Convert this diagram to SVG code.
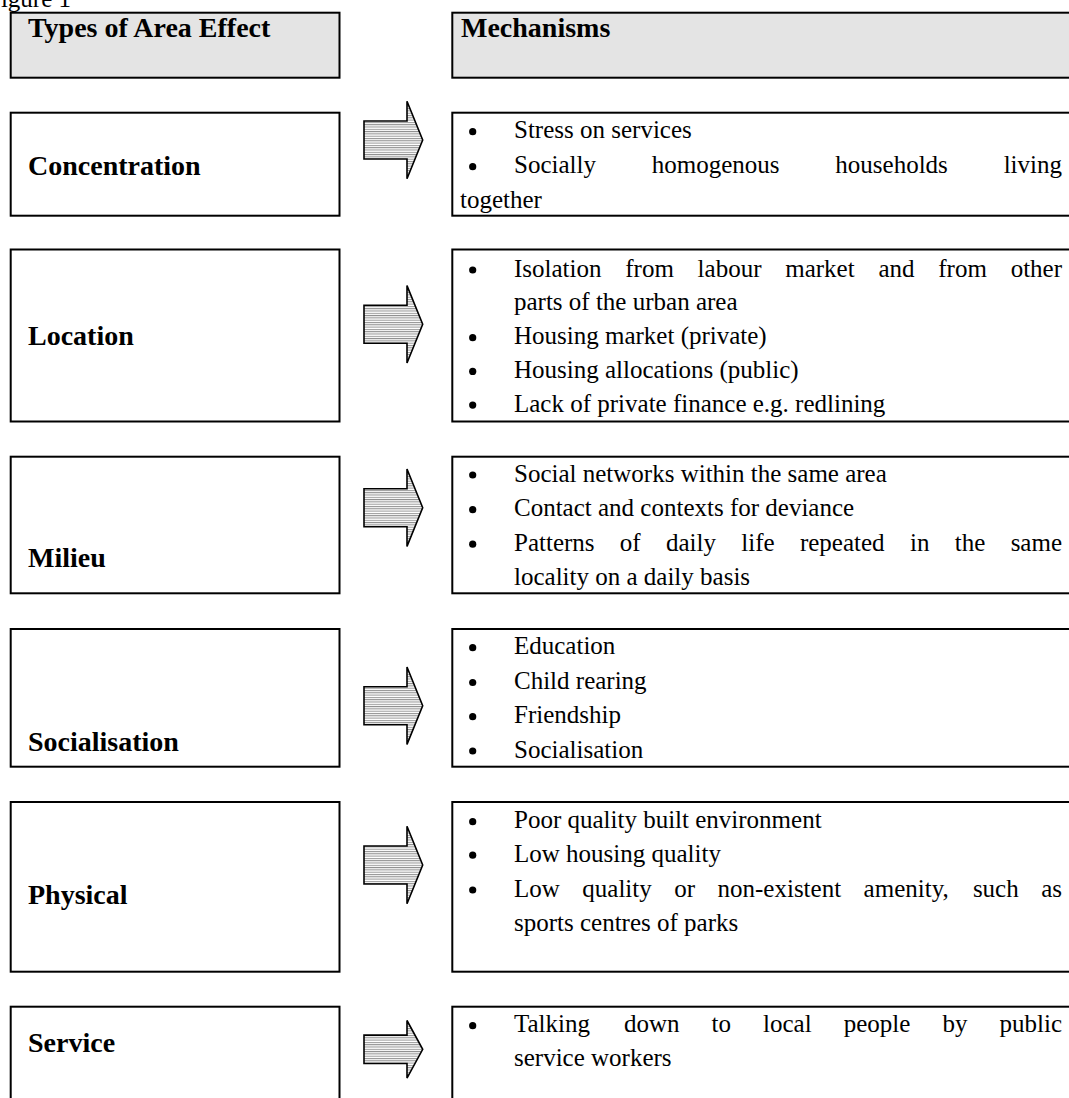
<svg xmlns="http://www.w3.org/2000/svg" width="1069" height="1098" viewBox="0 0 1069 1098">
<style>
.box{fill:#fff;stroke:#000;stroke-width:2}
.hdr{fill:#e4e4e4;stroke:#000;stroke-width:2}
.lbl{font-family:"Liberation Serif",serif;font-weight:bold;font-size:28px;fill:#000}
.t{font-family:"Liberation Serif",serif;font-size:25px;fill:#000}
.end{text-anchor:end}
.b{fill:#000}
.arrow{fill:url(#stripes);stroke:#000;stroke-width:1.6;stroke-linejoin:miter}
</style>
<defs>
<pattern id="stripes" x="0" y="0" width="6" height="2.3" patternUnits="userSpaceOnUse">
<rect width="6" height="2.3" fill="#fff"/>
<rect width="6" height="1" fill="#8f8f8f"/>
</pattern>
</defs>
<rect width="1069" height="1098" fill="#fff"/>
<text class="t" x="-13" y="7">Figure 1</text>

<g id="header-types">
<rect class="hdr" x="10.7" y="12.7" width="328.8" height="65"/>
<text class="lbl" x="28" y="37">Types of Area Effect</text>
</g>
<g id="header-mechanisms">
<rect class="hdr" x="452.3" y="12.7" width="640" height="65"/>
<text class="lbl" x="461" y="37">Mechanisms</text>
</g>

<g id="type-concentration">
<rect class="box" x="10.7" y="112.7" width="328.8" height="103"/>
<text class="lbl" x="28" y="175">Concentration</text>
</g>
<g id="mech-concentration">
<rect class="box" x="452.3" y="112.7" width="640" height="103"/>
<circle class="b" cx="472.7" cy="131.7" r="3.6"/>
<text class="t" x="514" y="138">Stress on services</text>
<circle class="b" cx="472.7" cy="166.7" r="3.6"/>
<text class="t" y="173"><tspan x="514">Socially</tspan><tspan x="651.75">homogenous</tspan><tspan x="835.35">households</tspan></text>
<text class="t end" x="1062" y="173">living</text>
<text class="t" x="460" y="208">together</text>
</g>

<g id="type-location">
<rect class="box" x="10.7" y="249.5" width="328.8" height="172"/>
<text class="lbl" x="28" y="345">Location</text>
</g>
<g id="mech-location">
<rect class="box" x="452.3" y="249.5" width="640" height="172"/>
<circle class="b" cx="472.7" cy="270" r="3.6"/>
<text class="t" y="276.5"><tspan x="514">Isolation</tspan><tspan x="625.25">from</tspan><tspan x="697.6">labour</tspan><tspan x="785.25">market</tspan><tspan x="878.4">and</tspan><tspan x="938.25">from</tspan></text>
<text class="t end" x="1062" y="276.5">other</text>
<text class="t" x="514" y="310.25">parts of the urban area</text>
<circle class="b" cx="472.7" cy="337.7" r="3.6"/>
<text class="t" x="514" y="344">Housing market (private)</text>
<circle class="b" cx="472.7" cy="371.4" r="3.6"/>
<text class="t" x="514" y="377.75">Housing allocations (public)</text>
<circle class="b" cx="472.7" cy="405.1" r="3.6"/>
<text class="t" x="514" y="411.5">Lack of private finance e.g. redlining</text>
</g>

<g id="type-milieu">
<rect class="box" x="10.7" y="456.7" width="328.8" height="136.6"/>
<text class="lbl" x="28" y="567">Milieu</text>
</g>
<g id="mech-milieu">
<rect class="box" x="452.3" y="456.7" width="640" height="136.6"/>
<circle class="b" cx="472.7" cy="475" r="3.6"/>
<text class="t" x="514" y="481.5">Social networks within the same area</text>
<circle class="b" cx="472.7" cy="509.7" r="3.6"/>
<text class="t" x="514" y="516">Contact and contexts for deviance</text>
<circle class="b" cx="472.7" cy="544.2" r="3.6"/>
<text class="t" y="550.5"><tspan x="514">Patterns</tspan><tspan x="619.87">of</tspan><tspan x="665.99">daily</tspan><tspan x="741.31">life</tspan><tspan x="799.93">repeated</tspan><tspan x="909.95">in</tspan><tspan x="954.72">the</tspan></text>
<text class="t end" x="1062" y="550.5">same</text>
<text class="t" x="514" y="585">locality on a daily basis</text>
</g>

<g id="type-socialisation">
<rect class="box" x="10.7" y="629" width="328.8" height="137.7"/>
<text class="lbl" x="28" y="751">Socialisation</text>
</g>
<g id="mech-socialisation">
<rect class="box" x="452.3" y="629" width="640" height="137.7"/>
<circle class="b" cx="472.7" cy="647.7" r="3.6"/>
<text class="t" x="514" y="654">Education</text>
<circle class="b" cx="472.7" cy="682.5" r="3.6"/>
<text class="t" x="514" y="689">Child rearing</text>
<circle class="b" cx="472.7" cy="716.7" r="3.6"/>
<text class="t" x="514" y="723">Friendship</text>
<circle class="b" cx="472.7" cy="751" r="3.6"/>
<text class="t" x="514" y="757.5">Socialisation</text>
</g>

<g id="type-physical">
<rect class="box" x="10.7" y="802" width="328.8" height="169.7"/>
<text class="lbl" x="28" y="904">Physical</text>
</g>
<g id="mech-physical">
<rect class="box" x="452.3" y="802" width="640" height="169.7"/>
<circle class="b" cx="472.7" cy="821.7" r="3.6"/>
<text class="t" x="514" y="828">Poor quality built environment</text>
<circle class="b" cx="472.7" cy="855.2" r="3.6"/>
<text class="t" x="514" y="861.5">Low housing quality</text>
<circle class="b" cx="472.7" cy="890" r="3.6"/>
<text class="t" y="896.5"><tspan x="514">Low</tspan><tspan x="582.29">quality</tspan><tspan x="674.23">or</tspan><tspan x="717.52">non-existent</tspan><tspan x="863.61">amenity,</tspan><tspan x="972.9">such</tspan></text>
<text class="t end" x="1062" y="896.5">as</text>
<text class="t" x="514" y="930.5">sports centres of parks</text>
</g>

<g id="type-service">
<rect class="box" x="10.7" y="1006.7" width="328.8" height="110"/>
<text class="lbl" x="28" y="1052">Service</text>
</g>
<g id="mech-service">
<rect class="box" x="452.3" y="1006.7" width="640" height="110"/>
<circle class="b" cx="472.7" cy="1025.7" r="3.6"/>
<text class="t" y="1032"><tspan x="514">Talking</tspan><tspan x="623.88">down</tspan><tspan x="711.51">to</tspan><tspan x="763.04">local</tspan><tspan x="843.72">people</tspan><tspan x="942.45">by</tspan></text>
<text class="t end" x="1062" y="1032">public</text>
<text class="t" x="514" y="1066">service workers</text>
</g>

<g id="connectors">
<polygon class="arrow" points="364,121 407,121 407,101.3 422.7,140 407,178.7 407,159 364,159"/>
<polygon class="arrow" points="364,305.3 407,305.3 407,285.6 422.7,324.3 407,363 407,343.3 364,343.3"/>
<polygon class="arrow" points="364,488.7 407,488.7 407,469 422.7,507.7 407,546.4 407,526.7 364,526.7"/>
<polygon class="arrow" points="364,686.7 407,686.7 407,667 422.7,705.7 407,744.4 407,724.7 364,724.7"/>
<polygon class="arrow" points="364,846 407,846 407,826.3 422.7,865 407,903.7 407,884 364,884"/>
<polygon class="arrow" points="364,1035.1 407,1035.1 407,1020.5 422.7,1049.3 407,1078.1 407,1063.5 364,1063.5"/>
</g>
</svg>
